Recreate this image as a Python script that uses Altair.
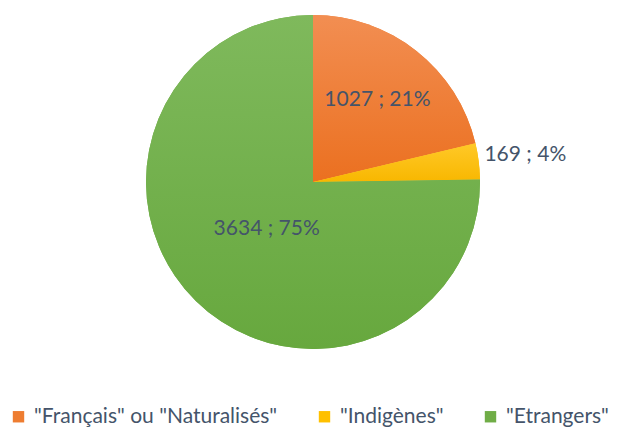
import altair as alt
import pandas as pd

categories = ['"Français" ou "Naturalisés"', '"Indigènes"', '"Etrangers"']
values = [1027, 169, 3634]
percents = [21, 4, 75]
colors = ["#EE7D31", "#FFC000", "#70AD47"]
grad_top = ["#F28E52", "#FFC928", "#7FB95C"]
grad_bot = ["#EB7020", "#F8B700", "#67A83E"]
label_radius = [104, 214, 66]

df = pd.DataFrame({
    "cat": categories,
    "value": values,
    "pct": percents,
    "order": list(range(len(categories))),
})
df["label"] = [f"{v} ; {p}%" for v, p in zip(values, percents)]

CX, CY, R = 305, 174, 167
TXT = "#44546A"

base = alt.Chart(df).transform_window(
    end="sum(value)", sort=[alt.SortField("order")], frame=[None, 0]
).transform_calculate(start="datum.end - datum.value")

legend_layer = base.mark_arc(radius=R, x=CX, y=CY).encode(
    theta=alt.Theta("start:Q", scale=alt.Scale(domain=[0, sum(values)])),
    theta2="end:Q",
    color=alt.Color(
        "cat:N",
        scale=alt.Scale(domain=categories, range=colors),
        sort=None,
        legend=alt.Legend(
            title=None, orient="none", legendX=0, legendY=398, padding=0,
            direction="horizontal",
            symbolType="square", symbolSize=130, labelFontSize=21,
            labelFont="Lato", labelColor=TXT, columnPadding=36,
            labelOffset=5, labelLimit=500, symbolStrokeWidth=0,
        ),
    ),
)

grad_layers = []
text_layers = []
for i, c in enumerate(categories):
    g = alt.Gradient(
        gradient="linear",
        stops=[alt.GradientStop(color=grad_top[i], offset=0),
               alt.GradientStop(color=grad_bot[i], offset=1)],
        x1=0, x2=0, y1=0, y2=1,
    )
    sub = base.transform_filter(alt.datum.cat == c)
    grad_layers.append(
        sub.mark_arc(radius=R, x=CX, y=CY, color=g).encode(
            theta="start:Q", theta2="end:Q"
        )
    )
    text_layers.append(
        sub.transform_calculate(mid="(datum.start + datum.end) / 2").mark_text(
            font="Lato", fontSize=21, color=TXT, x=CX, y=CY,
            radius=label_radius[i],
        ).encode(theta="mid:Q", text="label:N")
    )

chart = alt.layer(legend_layer, *grad_layers, *text_layers).properties(
    width=606, height=419, padding=0,
    autosize=alt.AutoSizeParams(type="none"),
).configure_view(stroke=None)

chart.save("out.html", embed_options={"renderer": "svg", "actions": False})
